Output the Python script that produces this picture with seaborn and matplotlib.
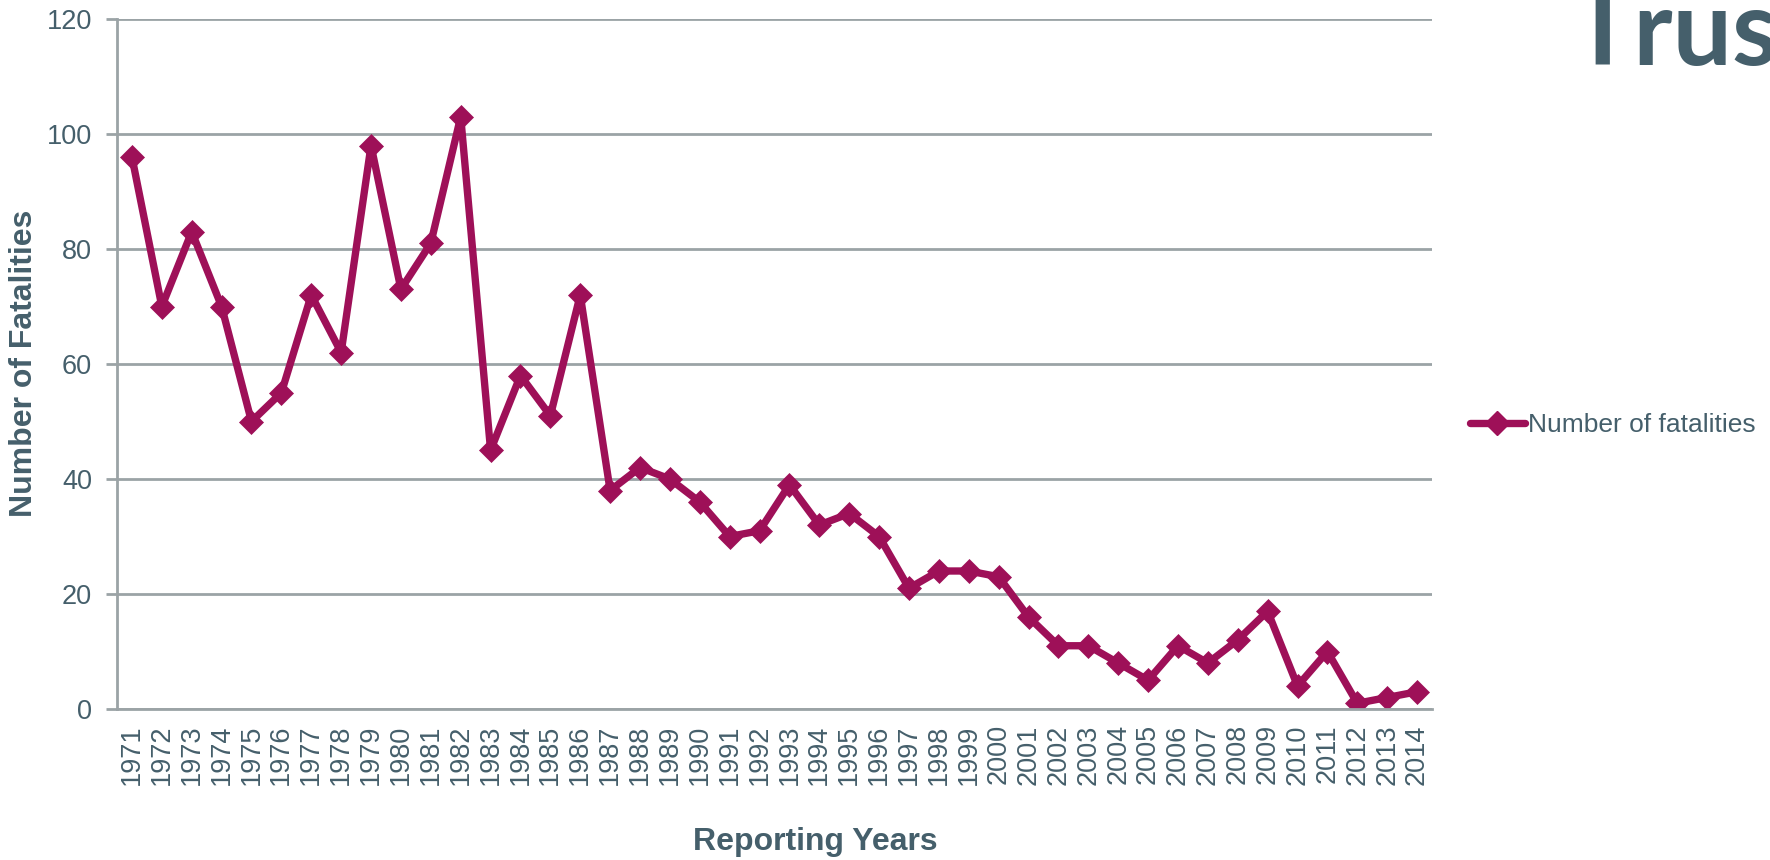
import matplotlib
matplotlib.use("Agg")
import matplotlib.pyplot as plt
import seaborn as sns
import pandas as pd
import numpy as np

years = list(range(1971, 2015))
fatalities = [96, 70, 83, 70, 50, 55, 72, 62, 98, 73, 81, 103, 45, 58, 51, 72,
              38, 42, 40, 36, 30, 31, 39, 32, 34, 30, 21, 24, 24, 23, 16, 11,
              11, 8, 5, 11, 8, 12, 17, 4, 10, 1, 2, 3]
series_name = "Number of fatalities"
yticks = [0, 20, 40, 60, 80, 100, 120]

sns.set_theme(style="white")
plt.rcParams['font.family'] = ['Liberation Sans', 'DejaVu Sans']

TEXT = '#455F6B'
GRID = '#9BA3A6'
LINE = '#9E1058'

df = pd.DataFrame({"Year": years, "Fatalities": fatalities})

fig = plt.figure(figsize=(17.7, 8.6), dpi=100)
W, H = 1770, 860
ax = fig.add_axes([117 / W, 1 - 709 / H, (1432 - 117) / W, (709 - 19) / H])

LW = 5.3
MS = 12.5
sns.lineplot(data=df, x="Year", y="Fatalities", ax=ax, color=LINE, lw=LW,
             marker='D', markersize=MS, markeredgecolor=LINE, markerfacecolor=LINE,
             markeredgewidth=0.5, label=series_name, legend=False)

ax.set_xlim(years[0] - 0.5, years[-1] + 0.5)
ax.set_ylim(0, 120)
ax.set_yticks(yticks)
ax.set_yticklabels([str(v) for v in yticks], fontsize=19.5, color=TEXT)
ax.set_xticks(years)
ax.set_xticklabels([str(y) for y in years], rotation=90, fontsize=19.5, color=TEXT)
ax.set_xticks([y - 0.5 for y in years] + [years[-1] + 0.5], minor=True)
ax.tick_params(axis='x', which='major', length=0, pad=11)
ax.tick_params(axis='x', which='minor', length=8, width=2, color=GRID, direction='out')
ax.tick_params(axis='y', which='major', length=8, width=2, color=GRID, pad=10, direction='out', left=True)
ax.yaxis.grid(True, color=GRID, lw=2)
ax.xaxis.grid(False)
ax.set_axisbelow(True)
for s in ['top', 'right']:
    ax.spines[s].set_visible(False)
for s in ['left', 'bottom']:
    ax.spines[s].set_color(GRID)
    ax.spines[s].set_linewidth(2)

ax.set_xlabel("")
ax.set_ylabel("")
fig.text(815 / W, 1 - 842 / H, "Reporting Years", ha='center', va='center',
         fontsize=23, fontweight='bold', color=TEXT)
fig.text(24 / W, 1 - 363 / H, "Number of Fatalities", ha='center', va='center',
         rotation=90, fontsize=23, fontweight='bold', color=TEXT)

handles = [plt.Line2D([], [], color=LINE, lw=LW, marker='D', markersize=MS)]
fig.legend(handles, [series_name], loc='center left', bbox_to_anchor=(1459 / W, 1 - 425 / H),
           frameon=False, fontsize=19, labelcolor=TEXT, handlelength=2.1, handletextpad=0.1,
           borderaxespad=0)

fig.text(1570 / W, 1 - 65 / H, "Trust", ha='left', va='baseline', fontsize=76,
         fontweight='bold', color='#455F6B', family=['Lato', 'DejaVu Sans'])

fig.savefig("out.png", dpi=100)
